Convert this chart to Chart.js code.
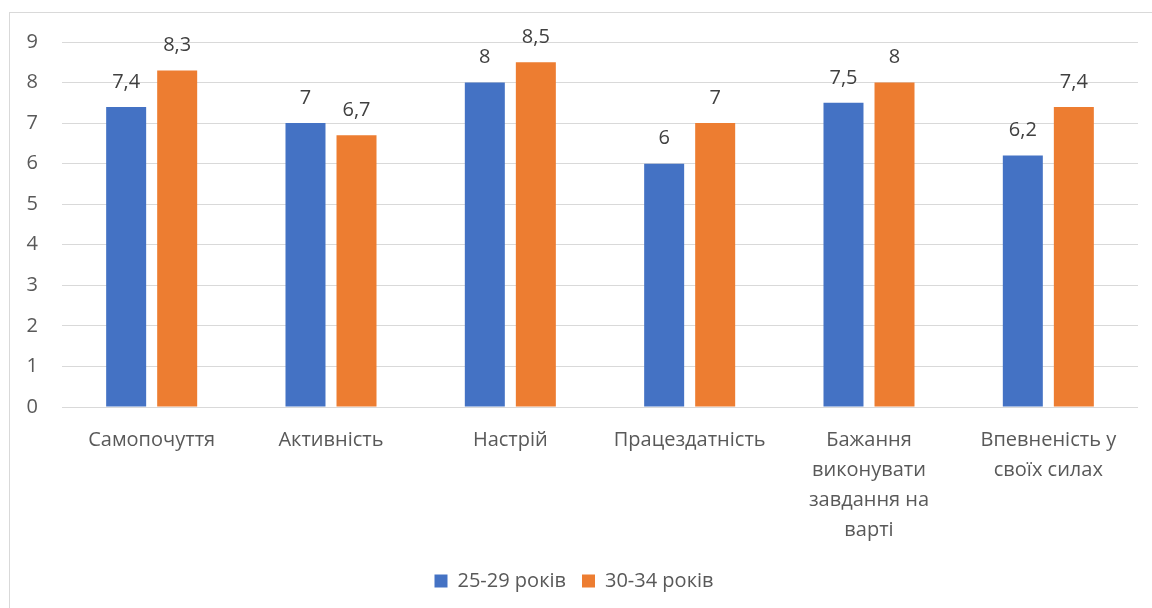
<!DOCTYPE html>
<html><head><meta charset="utf-8">
<script src="https://cdn.jsdelivr.net/npm/chart.js@4.4.1/dist/chart.umd.min.js"></script>
<style>
html,body{margin:0;padding:0;background:#fff;overflow:hidden}
#wrap{position:absolute;left:0;top:0;width:1152px;height:608px}
#frame{position:absolute;left:9px;top:12px;width:1160px;height:620px;border:1px solid #d9d9d9;box-sizing:border-box}
</style></head><body>
<div id="frame"></div>
<div id="wrap"><canvas id="c" width="1152" height="608"></canvas></div>
<script>
const categories = [
  ["Самопочуття"],
  ["Активність"],
  ["Настрій"],
  ["Працездатність"],
  ["Бажання", "виконувати", "завдання на", "варті"],
  ["Впевненість у", "своїх силах"]
];
const seriesNames = ["25-29 років", "30-34 років"];
const values2529 = [7.4, 7, 8, 6, 7.5, 6.2];
const values3034 = [8.3, 6.7, 8.5, 7, 8, 7.4];
const yTicks = [0,1,2,3,4,5,6,7,8,9];

const FONT = '"Open Sans", "Noto Sans", sans-serif';
const valueLabels = {
  id: 'valueLabels',
  afterDatasetsDraw(chart) {
    const ctx = chart.ctx;
    ctx.save();
    ctx.font = '20px ' + FONT;
    ctx.fillStyle = '#404040';
    ctx.textAlign = 'center';
    ctx.textBaseline = 'middle';
    chart.data.datasets.forEach((ds, i) => {
      chart.getDatasetMeta(i).data.forEach((bar, j) => {
        const v = ds.data[j];
        ctx.fillText(String(v).replace('.', ','), bar.x, bar.y - 25);
      });
    });
    ctx.restore();
  }
};

new Chart(document.getElementById('c'), {
  type: 'bar',
  data: {
    labels: categories,
    datasets: [
      { label: seriesNames[0], data: values2529, backgroundColor: '#4472C4' },
      { label: seriesNames[1], data: values3034, backgroundColor: '#ED7D31' }
    ]
  },
  options: {
    responsive: false,
    animation: false,
    devicePixelRatio: 1,
    layout: { padding: { left: 10, right: 14, top: 42, bottom: 7 } },
    datasets: { bar: { categoryPercentage: 0.569, barPercentage: 0.784 } },
    scales: {
      x: {
        grid: { display: false },
        border: { display: false },
        ticks: { color: '#595959', font: { family: FONT, size: 20, lineHeight: 1.5 }, padding: 10, maxRotation: 0, autoSkip: false },
        afterFit(s) { s.height = 148; }
      },
      y: {
        min: 0, max: 9,
        afterBuildTicks(s) { s.ticks = yTicks.map(v => ({ value: v })); },
        grid: { color: '#d9d9d9', lineWidth: 1, drawTicks: false },
        border: { display: false },
        ticks: { color: '#595959', font: { family: FONT, size: 20 }, padding: 24 },
        afterFit(s) { s.width = 52; }
      }
    },
    plugins: {
      legend: {
        position: 'bottom',
        labels: { color: '#595959', font: { family: FONT, size: 20 }, boxWidth: 13, boxHeight: 13, padding: 16 }
      },
      tooltip: { enabled: false }
    }
  },
  plugins: [valueLabels]
});
</script>
</body></html>
